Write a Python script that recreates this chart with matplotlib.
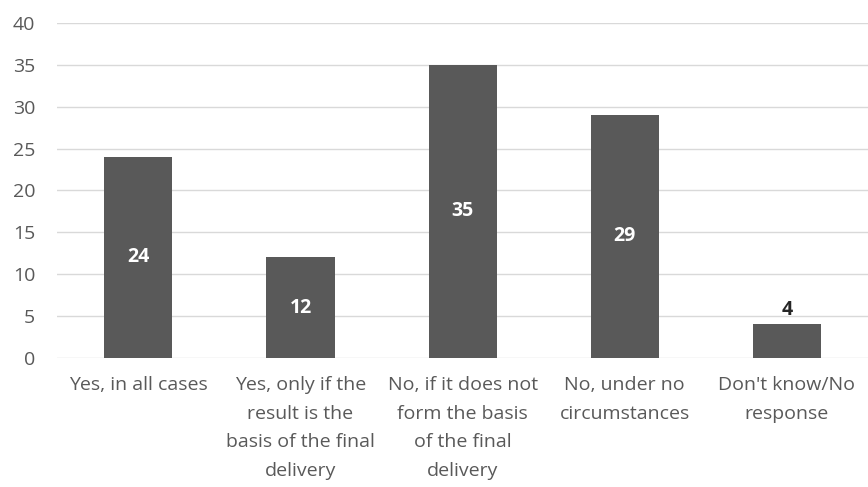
import matplotlib.pyplot as plt

categories = ["Yes, in all cases",
              "Yes, only if the\nresult is the\nbasis of the final\ndelivery",
              "No, if it does not\nform the basis\nof the final\ndelivery",
              "No, under no\ncircumstances",
              "Don't know/No\nresponse"]
values = [24, 12, 35, 29, 4]
yticks = [0, 5, 10, 15, 20, 25, 30, 35, 40]

plt.rcParams['font.family'] = ['Open Sans', 'DejaVu Sans']

fig = plt.figure(figsize=(8.68, 4.87), dpi=100)
ax = fig.add_axes([0.066, 0.265, 0.934, 0.688])

x = range(len(values))
bars = ax.bar(x, values, width=0.42, color="#595959", zorder=3)

# value labels: inside the bar when it is tall enough, above it otherwise
for xi, v in zip(x, values):
    if v >= 8:
        ax.text(xi, v / 2, str(v), ha="center", va="center", color="white",
                fontsize=14, fontweight="bold", zorder=4)
    else:
        ax.text(xi, v + 0.5, str(v), ha="center", va="bottom", color="#262626",
                fontsize=14, fontweight="bold", zorder=4)

ax.set_xlim(-0.5, 4.5)
ax.set_ylim(0, 40)
ax.set_yticks(yticks)
ax.yaxis.grid(True, color="#d9d9d9", linewidth=1, zorder=0)
ax.tick_params(axis="both", length=0, colors="#595959", labelsize=14)
ax.tick_params(axis="y", pad=16)
ax.tick_params(axis="x", pad=13)
ax.set_xticks(list(x))
ax.set_xticklabels(categories, linespacing=1.75, va="top")
for s in ax.spines.values():
    s.set_visible(False)

fig.savefig("out.png", dpi=100)
